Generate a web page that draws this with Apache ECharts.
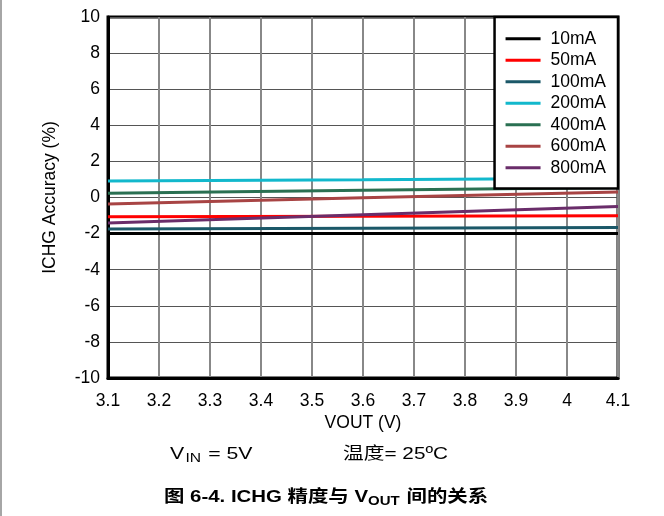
<!DOCTYPE html>
<html>
<head>
<meta charset="utf-8">
<script src="https://cdn.jsdelivr.net/npm/echarts@6/dist/echarts.min.js"></script>
<style>html,body{margin:0;padding:0;background:#fff}#c{width:664px;height:516px}</style>
</head>
<body>
<div id="c"></div>
<script>
var xVals = [3.1, 3.6, 4.1];
var seriesNames = ['10mA', '50mA', '100mA', '200mA', '400mA', '600mA', '800mA'];
var s10 = [-2.0, -2.0, -2.0];
var s50 = [-1.07, -1.04, -1.01];
var s100 = [-1.75, -1.70, -1.66];
var s200 = [0.92, 0.99, 1.07];
var s400 = [0.23, 0.40, 0.56];
var s600 = [-0.36, -0.02, 0.30];
var s800 = [-1.41, -0.96, -0.50];
var colors = ['#000000', '#ff0000', '#1b5868', '#12b8cc', '#2a7052', '#a84444', '#6a2d6a'];
var allSeries = [s10, s50, s100, s200, s400, s600, s800];

var FONT = '"Liberation Sans", Arial, "Noto Sans CJK SC", sans-serif';
var chart = echarts.init(document.getElementById('c'));
function pairs(arr) { return xVals.map(function (x, i) { return [x, arr[i]]; }); }

chart.setOption({
  animation: false,
  backgroundColor: '#fff',
  textStyle: { fontFamily: FONT },
  grid: { left: 108, top: 17, width: 510, height: 361, show: true, borderColor: '#000', borderWidth: 3, containLabel: false },
  legend: {
    orient: 'vertical', right: 46, top: 17,
    backgroundColor: '#fff', borderColor: '#000', borderWidth: 2.5,
    padding: [13, 12, 12, 11], itemGap: 4,
    itemWidth: 35, itemHeight: 3, icon: 'rect',
    textStyle: { fontSize: 17.5, color: '#000', fontFamily: FONT, lineHeight: 17.3, padding: [0, 0, 0, 5] },
    data: seriesNames
  },
  xAxis: {
    type: 'value', min: 3.1, max: 4.1, interval: 0.1,
    name: 'VOUT (V)', nameLocation: 'middle', nameGap: 35,
    nameTextStyle: { fontSize: 17.5, color: '#000', fontFamily: FONT },
    axisLine: { show: true, onZero: false, lineStyle: { color: '#000', width: 3 } },
    axisTick: { show: false },
    axisLabel: { fontSize: 17.5, color: '#000', margin: 14, fontFamily: FONT,
      formatter: function (v) { return String(Math.round(v * 10) / 10); } },
    splitLine: { show: true, lineStyle: { color: '#888', width: 2 } }
  },
  yAxis: {
    type: 'value', min: -10, max: 10, interval: 2,
    name: 'ICHG Accuracy (%)', nameLocation: 'middle', nameGap: 49,
    nameTextStyle: { fontSize: 17.5, color: '#000', fontFamily: FONT },
    axisLine: { show: true, onZero: false, lineStyle: { color: '#000', width: 3 } },
    axisTick: { show: false },
    axisLabel: { fontSize: 17.5, color: '#000', margin: 8, fontFamily: FONT },
    splitLine: { show: true, lineStyle: { color: '#555', width: 1 } }
  },
  series: seriesNames.map(function (n, i) {
    return {
      name: n, type: 'line', data: pairs(allSeries[i]), symbol: 'none',
      color: colors[i], lineStyle: { color: colors[i], width: 3 }, z: 2 + (i === 0 ? 1 : 0)
    };
  }),
  graphic: [
    { type: 'line', shape: { x1: 1, y1: 0, x2: 1, y2: 516 }, style: { stroke: '#888', lineWidth: 1.5 } },
    { type: 'text', x: 170, y: 445, scaleX: 1.25, style: {
      text: '{a|V}{s|IN}{a| = 5V}', fontFamily: FONT,
      rich: { a: { fontSize: 17, fontFamily: FONT, fill: '#000', verticalAlign: 'bottom', lineHeight: 20, padding: [0, 0, 2, 0] },
              s: { fontSize: 12.5, fontFamily: FONT, fill: '#000', verticalAlign: 'bottom', lineHeight: 14, padding: [0, 1, 0, 1] } } } },
    { type: 'text', x: 343, y: 446, scaleX: 1.22, style: {
      text: '温度= 25ºC', fontFamily: FONT, fontSize: 17, fill: '#000' } },
    { type: 'text', x: 164, y: 488, scaleX: 1.2, style: {
      text: '{a|图 6-4. ICHG 精度与 V}{s|OUT}{a| 间的关系}', fontFamily: FONT,
      rich: { a: { fontSize: 17, fontWeight: 'bold', fontFamily: FONT, fill: '#000', verticalAlign: 'bottom', lineHeight: 20, padding: [0, 0, 2, 0] },
              s: { fontSize: 12.5, fontWeight: 'bold', fontFamily: FONT, fill: '#000', verticalAlign: 'bottom', lineHeight: 14, padding: [0, 1, 0, 0] } } } }
  ]
});
</script>
</body>
</html>
